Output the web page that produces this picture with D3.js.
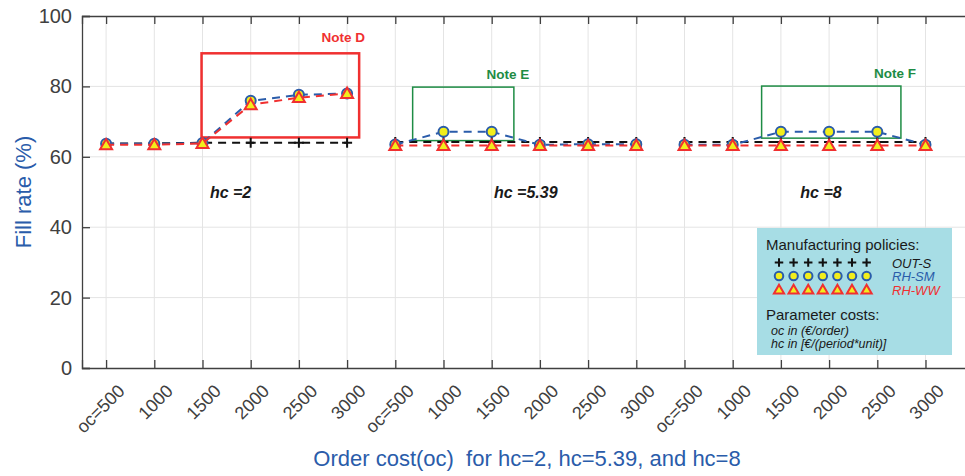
<!DOCTYPE html>
<html>
<head>
<meta charset="utf-8">
<script src="https://cdn.jsdelivr.net/npm/d3@7"></script>
<style>
  body { margin: 0; background: #fff; }
  svg { font-family: "Liberation Sans", Arial, sans-serif; }
</style>
</head>
<body>
<svg id="chart" width="965" height="476"></svg>
<script>
// order cost categories, repeated once for each hc value
const ocLabels = ["oc=500", "1000", "1500", "2000", "2500", "3000"];
const hcGroups = ["hc =2", "hc =5.39", "hc =8"];
const yTicks = [0, 20, 40, 60, 80, 100];

// fill rate (%) per hc group
const outS = [
  [63.8, 63.8, 64.0, 64.0, 64.0, 64.0],
  [64.2, 64.2, 64.2, 64.2, 64.2, 64.2],
  [64.2, 64.2, 64.2, 64.2, 64.2, 64.2]
];
const rhSM = [
  [63.7, 63.7, 63.9, 75.9, 77.6, 78.0],
  [63.5, 67.1, 67.1, 63.4, 63.6, 63.6],
  [63.4, 63.4, 67.1, 67.1, 67.1, 63.4]
];
const rhWW = [
  [63.4, 63.4, 63.8, 74.8, 76.8, 78.0],
  [63.2, 63.2, 63.2, 63.2, 63.2, 63.2],
  [63.2, 63.2, 63.2, 63.2, 63.2, 63.2]
];

// note boxes: [x0, x1] in category index, [y0, y1] in %
const notes = [
  { label: "Note D", x: [1.98, 5.25], y: [65.5, 89.4], kind: "red" },
  { label: "Note E", x: [6.36, 8.46], y: [64.6, 79.8], kind: "green" },
  { label: "Note F", x: [13.6, 16.49], y: [65.3, 80.1], kind: "green" }
];

const svg = d3.select("#chart");
const padLeft = 82, padTop = 16, padBottom = 368;
const step = 48.2;
const nCat = ocLabels.length * hcGroups.length;

const x = d3.scaleLinear().domain([-0.5, nCat + 0.5]).range([padLeft, padLeft + step * (nCat + 1)]);
const y = d3.scaleLinear().domain([0, 100]).range([padBottom, padTop]);

const axisColor = "#404040";
const blue = "#2a5caa";
const red = "#f03030";
const green = "#1e8c44";
const yellow = "#f2ee1c";

const allIdx = d3.range(nCat);

// grid
svg.append("g").selectAll("line")
  .data(allIdx).join("line")
  .attr("x1", d => x(d)).attr("x2", d => x(d))
  .attr("y1", padTop).attr("y2", padBottom)
  .attr("stroke", "#e4e4e4").attr("stroke-width", 1);
svg.append("g").selectAll("line")
  .data(yTicks.slice(1, -1)).join("line")
  .attr("x1", padLeft).attr("x2", 965)
  .attr("y1", d => y(d)).attr("y2", d => y(d))
  .attr("stroke", "#e4e4e4").attr("stroke-width", 1);

// axes (ticks inward, matlab style)
const xAxis = svg.append("g")
  .attr("transform", `translate(0,${padBottom})`)
  .call(d3.axisBottom(x).tickValues(allIdx).tickSize(-8)
    .tickFormat(d => ocLabels[d % ocLabels.length]));
xAxis.selectAll("text")
  .attr("transform", "translate(10,15) rotate(-45)")
  .attr("x", 0).attr("y", 0).attr("dy", "0.72em")
  .attr("text-anchor", "end")
  .style("font-size", "18px").attr("fill", axisColor);

svg.append("g")
  .attr("transform", `translate(0,${padTop})`)
  .call(d3.axisTop(x).tickValues(allIdx).tickSize(-8).tickFormat(""));

const yAxis = svg.append("g")
  .attr("transform", `translate(${padLeft},0)`)
  .call(d3.axisLeft(y).tickValues(yTicks).tickSize(-8).tickPadding(10));
yAxis.selectAll("text").style("font-size", "20px").attr("fill", axisColor);

svg.selectAll(".domain").attr("stroke", axisColor).attr("stroke-width", 1.3);
svg.selectAll(".tick line").attr("stroke", axisColor).attr("stroke-width", 1.3);

// note boxes
notes.forEach(n => {
  const c = n.kind === "red" ? red : green;
  svg.append("rect")
    .attr("x", x(n.x[0])).attr("y", y(n.y[1]))
    .attr("width", x(n.x[1]) - x(n.x[0])).attr("height", y(n.y[0]) - y(n.y[1]))
    .attr("fill", "none").attr("stroke", c)
    .attr("stroke-width", n.kind === "red" ? 2.5 : 1.5);
  svg.append("text")
    .attr("x", x(n.x[1]) - (n.kind === "red" ? 16 : 6))
    .attr("y", y(n.y[1]) - (n.kind === "red" ? 11 : 8))
    .attr("text-anchor", "middle")
    .style("font-size", "13.5px").style("font-weight", "bold")
    .attr("fill", c).text(n.label);
});

// series
const series = [
  { name: "OUT-S", data: outS, color: "#111", marker: "plus" },
  { name: "RH-SM", data: rhSM, color: blue, marker: "circle" },
  { name: "RH-WW", data: rhWW, color: red, marker: "triangle" }
];

const line = d3.line().x(d => x(d.i)).y(d => y(d.v));

function drawMarker(g, kind, cx, cy, s) {
  if (kind === "plus") {
    g.append("path")
      .attr("d", `M${cx - 5 * s},${cy}H${cx + 5 * s}M${cx},${cy - 5 * s}V${cy + 5 * s}`)
      .attr("stroke", "#111").attr("stroke-width", 2);
  } else if (kind === "circle") {
    g.append("circle").attr("cx", cx).attr("cy", cy).attr("r", 5 * s)
      .attr("fill", yellow).attr("stroke", blue).attr("stroke-width", 2);
  } else {
    g.append("path").attr("d", d3.symbol().type(d3.symbolTriangle).size(62 * s * s)())
      .attr("transform", `translate(${cx},${cy + 1})`)
      .attr("fill", yellow).attr("stroke", red).attr("stroke-width", 2);
  }
}

series.forEach(s => {
  const g = svg.append("g");
  s.data.forEach((vals, gi) => {
    const pts = vals.map((v, j) => ({ i: gi * ocLabels.length + j, v }));
    g.append("path").datum(pts)
      .attr("d", line)
      .attr("fill", "none").attr("stroke", s.color)
      .attr("stroke-width", 2).attr("stroke-dasharray", "8,6");
    pts.forEach(p => drawMarker(g, s.marker, x(p.i), y(p.v), 1));
  });
});

// hc group labels, a bit right of each group's centre
svg.append("g").selectAll("text")
  .data(hcGroups).join("text")
  .attr("x", (d, i) => x(i * ocLabels.length + 2.5) + [4, 10, 16][i])
  .attr("y", 198)
  .attr("text-anchor", "middle")
  .style("font-size", "16px").style("font-weight", "bold").style("font-style", "italic")
  .attr("fill", "#1a1a1a")
  .text(d => d);

// legend
const lg = svg.append("g");
lg.append("rect").attr("x", 757).attr("y", 228).attr("width", 195).attr("height", 127)
  .attr("fill", "#a7dde5");
lg.append("text").attr("x", 766).attr("y", 250).style("font-size", "15px")
  .attr("fill", "#1a1a1a").text("Manufacturing policies:");
series.forEach((s, k) => {
  const cy = 262.5 + k * 13.5;
  d3.range(7).forEach(m => drawMarker(lg, s.marker, 779 + m * 14.6, cy, 0.85));
  lg.append("text").attr("x", 892).attr("y", cy + 5)
    .style("font-size", "13px").style("font-style", "italic")
    .attr("fill", k === 0 ? "#1a1a1a" : s.color).text(s.name);
});
lg.append("text").attr("x", 766).attr("y", 320).style("font-size", "15px")
  .attr("fill", "#1a1a1a").text("Parameter costs:");
lg.append("text").attr("x", 771).attr("y", 335).style("font-size", "12.5px").style("font-style", "italic")
  .attr("fill", "#1a1a1a").text("oc in (€/order)");
lg.append("text").attr("x", 771).attr("y", 348).style("font-size", "12.5px").style("font-style", "italic")
  .attr("fill", "#1a1a1a").text("hc in [€/(period*unit)]");

// axis titles
svg.append("text")
  .attr("transform", "translate(31,192) rotate(-90)")
  .attr("text-anchor", "middle")
  .style("font-size", "22px").attr("fill", blue)
  .text("Fill rate (%)");
svg.append("text")
  .attr("x", 527).attr("y", 466)
  .attr("text-anchor", "middle")
  .style("font-size", "22px").style("white-space", "pre").attr("fill", blue)
  .text("Order cost(oc)  for hc=2, hc=5.39, and hc=8");
</script>
</body>
</html>
